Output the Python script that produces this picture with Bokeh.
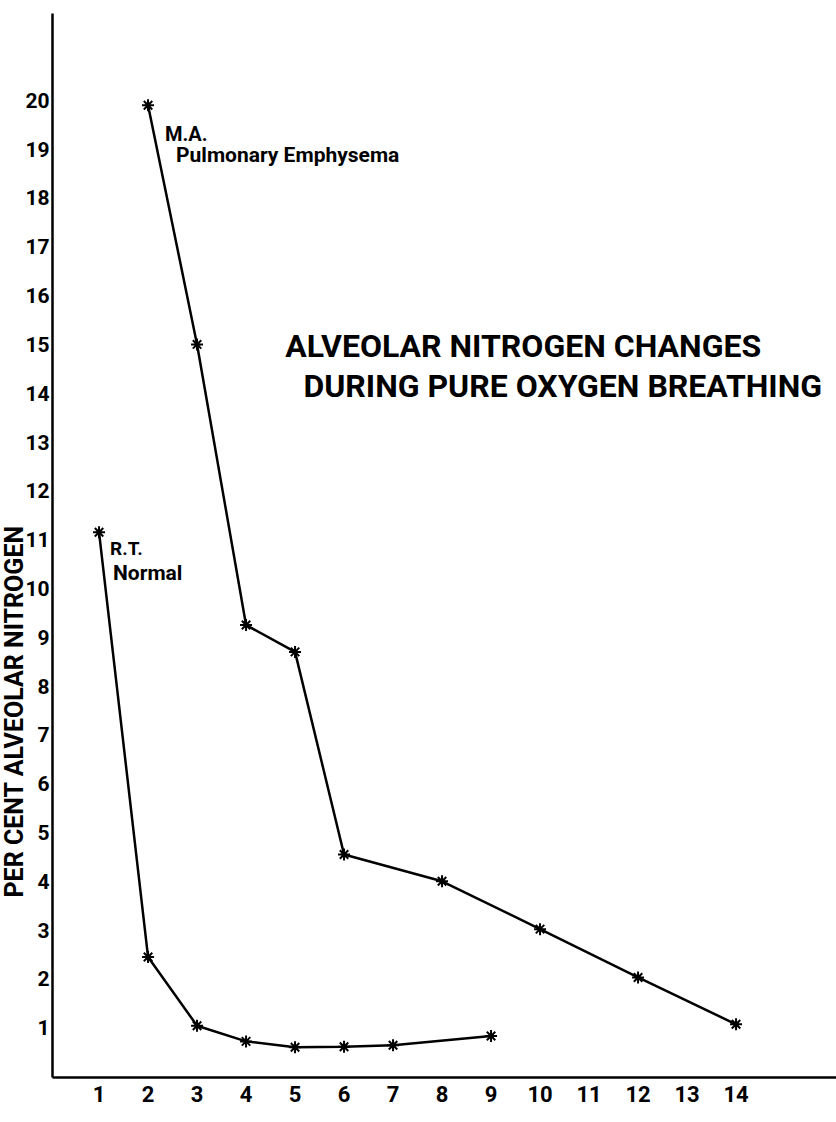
from bokeh.plotting import figure
from bokeh.models import Label, FixedTicker, Range1d, Title
from bokeh.embed import file_html
from bokeh.resources import INLINE

# Data
minute_ticks = list(range(1, 15))
percent_ticks = list(range(1, 21))

ma_minutes = [2, 3, 4, 5, 6, 8, 10, 12, 14]
ma_percent = [19.9, 15.0, 9.25, 8.7, 4.55, 4.0, 3.02, 2.03, 1.07]

rt_minutes = [1, 2, 3, 4, 5, 6, 7, 9]
rt_percent = [11.15, 2.45, 1.04, 0.72, 0.6, 0.61, 0.64, 0.83]

title_line1 = "ALVEOLAR NITROGEN CHANGES"
title_line2 = "DURING PURE OXYGEN BREATHING"
x_title = "MINUTES"
y_title = "PER CENT ALVEOLAR NITROGEN"

FONT = "Roboto"

p = figure(width=836, height=1122, output_backend="svg", toolbar_location=None,
           x_range=Range1d(0.05, 16.05), y_range=Range1d(-0.02, 21.78),
           min_border_left=52, min_border_right=0, min_border_top=13,
           min_border_bottom=45)
p.grid.visible = False
p.outline_line_color = None
p.background_fill_color = "white"
p.border_fill_color = "white"

for ax in (p.xaxis[0], p.yaxis[0]):
    ax.axis_line_width = 2.5
    ax.axis_line_color = "black"
    ax.major_tick_line_color = None
    ax.minor_tick_line_color = None
    ax.major_tick_out = 0
    ax.major_tick_in = 0
    ax.major_label_text_font = FONT
    ax.major_label_text_font_style = "bold"
    ax.major_label_text_color = "black"

p.xaxis.ticker = FixedTicker(ticks=minute_ticks)
p.yaxis.ticker = FixedTicker(ticks=percent_ticks)
p.xaxis.major_label_text_font_size = "22px"
p.yaxis.major_label_text_font_size = "21px"
p.xaxis.major_label_standoff = 8
p.yaxis.major_label_standoff = 3

# y-axis title, placed below the frame centre and overlapping the tick labels
p.add_layout(Title(text=y_title, align="left", offset=180, standoff=-12,
                   text_font=FONT, text_font_size="25px", text_font_style="bold",
                   text_color="black"), "left")

# series
p.line(ma_minutes, ma_percent, line_width=2.5, line_color="black")
p.scatter(ma_minutes, ma_percent, marker="asterisk", size=12, line_width=2, line_color="black")
p.line(rt_minutes, rt_percent, line_width=2.5, line_color="black")
p.scatter(rt_minutes, rt_percent, marker="asterisk", size=12, line_width=2, line_color="black")

# series annotations anchored on first points
p.add_layout(Label(x=ma_minutes[0], y=ma_percent[0], x_offset=17, y_offset=-17,
                   text="M.A.", text_font=FONT, text_font_size="20px",
                   text_font_style="bold", text_baseline="top", text_color="black"))
p.add_layout(Label(x=ma_minutes[0], y=ma_percent[0], x_offset=28, y_offset=-38,
                   text="Pulmonary Emphysema", text_font=FONT, text_font_size="21px",
                   text_font_style="bold", text_baseline="top", text_color="black"))
p.add_layout(Label(x=rt_minutes[0], y=rt_percent[0], x_offset=11, y_offset=-5,
                   text="R.T.", text_font=FONT, text_font_size="19px",
                   text_font_style="bold", text_baseline="top", text_color="black"))
p.add_layout(Label(x=rt_minutes[0], y=rt_percent[0], x_offset=14, y_offset=-29,
                   text="Normal", text_font=FONT, text_font_size="21px",
                   text_font_style="bold", text_baseline="top", text_color="black"))

# title
p.add_layout(Label(x=4.80, y=14.96, text=title_line1, text_font=FONT,
                   text_font_size="32px", text_font_style="bold",
                   text_baseline="alphabetic", text_color="black"))
p.add_layout(Label(x=5.17, y=14.14, text=title_line2, text_font=FONT,
                   text_font_size="32px", text_font_style="bold",
                   text_baseline="alphabetic", text_color="black"))

# x-axis title
p.add_layout(Label(x=6.44, y=-0.42, text=x_title, text_font=FONT,
                   text_font_size="20px", text_font_style="bold",
                   text_align="center", text_baseline="top", text_color="black"))

open("out.html", "w").write(file_html(p, INLINE))
